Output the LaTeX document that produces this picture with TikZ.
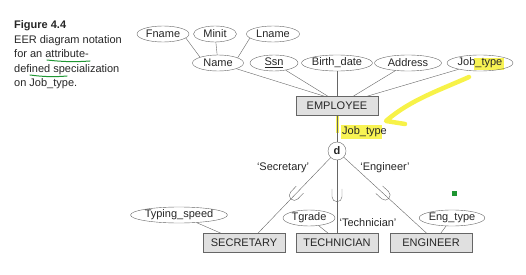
\documentclass[tikz,border=0pt]{standalone}
\usepackage{fontspec}
\setmainfont{Liberation Sans}
\usepackage{tikz}
\usetikzlibrary{calc,shapes,positioning,backgrounds,decorations.markings}

\definecolor{marker}{RGB}{246,240,40}
\definecolor{pen}{RGB}{30,150,50}

\begin{document}
\begin{tikzpicture}[x=1pt,y=-1pt]
  \tikzstyle{every node}=[font=\fontsize{11}{13}\selectfont, text=black!85]
  \tikzstyle{caption}=[anchor=base west, inner sep=0pt, font=\fontsize{11}{13}\selectfont]
  \tikzstyle{entity}=[draw=black!60, fill=black!12, minimum width=82pt, minimum height=19pt, inner sep=0pt]
  \tikzstyle{attr}=[ellipse, draw=black!60, minimum height=16pt, inner sep=0pt]
  \tikzstyle{link}=[draw=black!60, thin]
  \tikzstyle{subclass}=[link, postaction={decorate}, decoration={markings,
      mark=at position 0.5 with {\draw[black!60] (-8pt,5pt) -- (0pt,5pt) arc (90:-90:5pt) -- (-8pt,-5pt);}}]
  \useasboundingbox (0,0) rectangle (526,275);

  % caption
  \node[caption, font=\fontsize{11}{13}\selectfont\bfseries] (cap0) at (14,29) {Figure 4.4};
  \node[caption] (cap1) at (14,43.5) {EER diagram notation};
  \node[caption] (cap2) at (14,58) {for an attribute-};
  \node[caption] (cap3) at (14,72.5) {defined specialization};
  \node[caption] (cap4) at (14,87) {on Job\_type.};

  % superclass and its attributes
  \node[attr, minimum width=52pt] (fname) at (163,34) {Fname};
  \node[attr, minimum width=43pt] (minit) at (215,34) {Minit};
  \node[attr, minimum width=53pt] (lname) at (273,34) {Lname};
  \node[attr, minimum width=51pt] (name) at (218,63) {Name};
  \node[attr, minimum width=48pt] (ssn) at (274,63) {\underline{Ssn}};
  \node[attr, minimum width=67pt] (bdate) at (337,63) {Birth\_date};
  \node[attr, minimum width=67pt] (addr) at (408,63) {Address};
  \node[attr, minimum width=66pt] (jobtype) at (480,63) {Job\_type};
  \node[entity] (emp) at (337,106) {EMPLOYEE};

  \draw[link] (fname.-10) -- (name.162);
  \draw[link] (minit) -- (name);
  \draw[link] (lname.190) -- (name.15);
  \draw[link] (name) -- (emp.142);
  \draw[link] (ssn) -- (emp.133);
  \draw[link] (bdate) -- (emp);
  \draw[link] (addr) -- (emp.31);
  \draw[link] (jobtype) -- (emp.18);

  % specialization circle
  \node[circle, draw=black!60, minimum size=18pt, inner sep=0pt,
        font=\fontsize{11}{13}\selectfont\bfseries] (d) at (337,151) {d};
  \node[anchor=west, inner sep=0pt] (defattr) at (342,132) {Job\_type};
  \draw[link] (emp) -- (d);

  % subclasses
  \node[entity] (sec) at (244,243) {SECRETARY};
  \node[entity] (tech) at (337,243) {TECHNICIAN};
  \node[entity] (eng) at (431,243) {ENGINEER};
  \node[attr, minimum width=84pt] (tspeed) at (179,215) {Typing\_speed};
  \node[attr, minimum width=52pt] (tgrade) at (309,218) {Tgrade};
  \node[attr, minimum width=64pt] (etype) at (452,218) {Eng\_type};

  \draw[subclass] (d) -- (sec.35);
  \draw[subclass] (d) -- (tech);
  \draw[subclass] (d) -- (eng.114);
  \node (lsec) at (283,168) {`Secretary'};
  \node (leng) at (385,168) {`Engineer'};
  \node (ltech) at (368,223) {`Technician'};

  \draw[link] (tspeed) -- (sec.157);
  \draw[link] (tgrade) -- (tech.132);
  \draw[link] (etype) -- (eng.45);

  % pen marks
  \begin{scope}[on background layer]
    \fill[marker, opacity=.8] (474,58) rectangle (504,70);
    \fill[marker, opacity=.8] (341,125) rectangle (382,139);
    \draw[marker, opacity=.8, line width=3pt] (337,116) -- (337,133);
    \draw[marker, opacity=.85, line width=4.5pt, line cap=round, line join=round]
      (469,77) .. controls (440,90) and (410,100) .. (386,121) -- (405,124);
    \draw[pen, line width=1pt, line cap=round] (47,60) .. controls (65,62) and (75,62) .. (90,61);
    \draw[pen, line width=1pt, line cap=round] (30,75) .. controls (45,77) and (55,77) .. (67,76);
    \fill[pen] (452,191) rectangle (457,196);
  \end{scope}
\end{tikzpicture}
\end{document}
